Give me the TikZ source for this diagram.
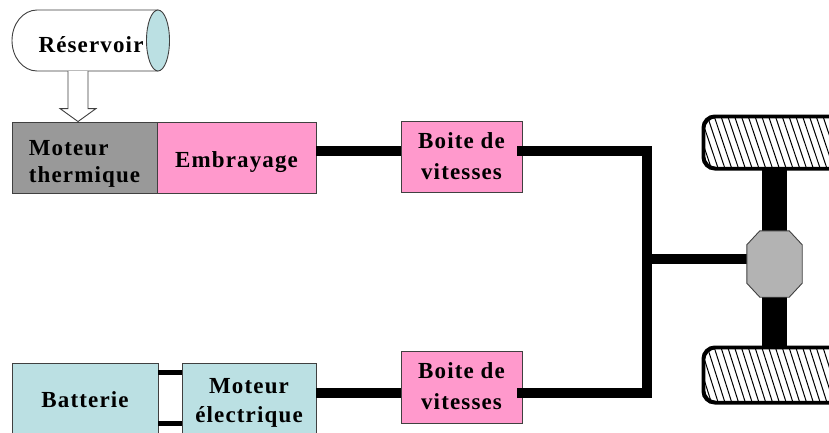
\documentclass[tikz,border=0pt]{standalone}
\usepackage{fontspec}
\setmainfont{Liberation Serif}[LetterSpace=5.0]
\usetikzlibrary{calc}
\definecolor{boxpink}{HTML}{FF99CC}
\definecolor{boxgray}{HTML}{999999}
\definecolor{boxblue}{HTML}{BBE0E3}
\definecolor{diffgray}{HTML}{B3B3B3}
\definecolor{edge}{HTML}{404040}
\newcommand{\boxtxt}[4]{\fontsize{23}{#2}\selectfont\bfseries\raisebox{#1}[\height][\depth]{\begin{tabular}{@{}#3@{}}#4\end{tabular}}}
\tikzset{
  blk/.style={draw=edge, line width=0.9pt, rectangle, inner sep=0pt},
  shaft/.style={line width=10pt, black},
  thinshaft/.style={line width=5pt, black},
  wheel/.style={draw=black, line width=2.5pt, rounded corners=12pt, fill=white},
  hatch/.style={line width=1pt, black},
}
\begin{document}
\begin{tikzpicture}[x=1pt,y=-1pt]
\clip (0,0) rectangle (829,432);
\fill[white] (0,0) rectangle (829,432);
% reservoir
\draw[edge, line width=0.9pt, fill=white] (158,10) -- (37,10) arc[start angle=90, end angle=270, x radius=25, y radius=-30.5] -- (158,71);
\draw[edge, line width=0.9pt, fill=boxblue] (158,40.5) ellipse[x radius=11.5, y radius=30.5];
\node[inner sep=0pt] (res) at (91,40.5) {\boxtxt{-7pt}{27}{c}{Réservoir}};
\coordinate (arrtop) at (78,71);
% boxes
\node[blk, fill=boxgray, minimum width=145pt, minimum height=71pt] (mth) at (84.5,157.5) {\boxtxt{-6.5pt}{27}{l}{Moteur\\thermique}};
\node[blk, fill=boxpink, minimum width=159pt, minimum height=71pt] (emb) at (236.5,157.5) {\boxtxt{-4.5pt}{27}{c}{Embrayage}};
\node[blk, fill=boxpink, minimum width=121pt, minimum height=71pt] (bv1) at (461.5,156.5) {\boxtxt{-1.5pt}{31}{c}{Boite de\\vitesses}};
\node[blk, fill=boxpink, minimum width=121pt, minimum height=72pt] (bv2) at (461.5,387) {\boxtxt{-0.5pt}{31}{c}{Boite de\\vitesses}};
\node[blk, fill=boxblue, minimum width=146pt, minimum height=78pt] (bat) at (85,402) {\boxtxt{-0.5pt}{27}{c}{Batterie}};
\node[blk, fill=boxblue, minimum width=134pt, minimum height=78pt] (mel) at (249,402) {\boxtxt{-0.5pt}{29}{c}{Moteur\\électrique}};
% hollow arrow
\draw[edge, line width=0.9pt, fill=white] ($(arrtop)+(-10,0)$) -- ($(arrtop|-mth.north)+(-10,-13)$) -- ($(arrtop|-mth.north)+(-18,-13)$) -- (arrtop|-mth.north) -- ($(arrtop|-mth.north)+(18,-13)$) -- ($(arrtop|-mth.north)+(10,-13)$) -- ($(arrtop)+(10,0)$);
% wheels and differential
\node[minimum width=55pt, minimum height=66pt, inner sep=0pt] (diff) at (774.5,264) {};
\node[wheel, minimum width=150pt, minimum height=51pt, inner sep=0pt] (wt) at (779,142.5) {};
\node[wheel, minimum width=150pt, minimum height=54pt, inner sep=0pt] (wb) at (779,375) {};
\foreach \w in {wt,wb}{
  \begin{scope}
    \clip[rounded corners=12pt] (\w.north west) rectangle (\w.south east);
    \foreach \x in {680,686.8,...,860}{
      \draw[hatch] (\x,0 |- \w.north) -- ($(\x,0 |- \w.south)+(18,0)$);
    }
  \end{scope}
  \draw[black, line width=2.5pt, rounded corners=12pt] (\w.north west) rectangle (\w.south east);
}
\draw[line width=25pt] (diff|-wt.south) -- (diff|-wb.north);
\coordinate (junc) at (647,259);
\draw[shaft] (junc) -- (junc-|diff.west);
\draw[edge, line width=0.9pt, fill=diffgray]
  ([xshift=13pt]diff.north west) -- ([xshift=-13pt]diff.north east) -- ([yshift=-14pt]diff.north east)
  -- ([yshift=14pt]diff.south east) -- ([xshift=-13pt]diff.south east) -- ([xshift=13pt]diff.south west)
  -- ([yshift=14pt]diff.south west) -- ([yshift=-14pt]diff.north west) -- cycle;
% shafts
\draw[shaft] ([yshift=7pt]emb.east) -- ([yshift=7pt]emb.east -| bv1.west);
\draw[shaft, line cap=rect] ([yshift=6pt]bv1.east) -| (junc) |- ([yshift=-6pt]bv2.east);
\draw[shaft] ([yshift=-6pt]bv2.west -| mel.east) -- ([yshift=-6pt]bv2.west);
\draw[thinshaft] ([yshift=-10pt]bat.north east) -- ([yshift=-10pt]mel.north west);
\draw[thinshaft] ([yshift=-61pt]bat.north east) -- ([yshift=-61pt]mel.north west);
\end{tikzpicture}
\end{document}
